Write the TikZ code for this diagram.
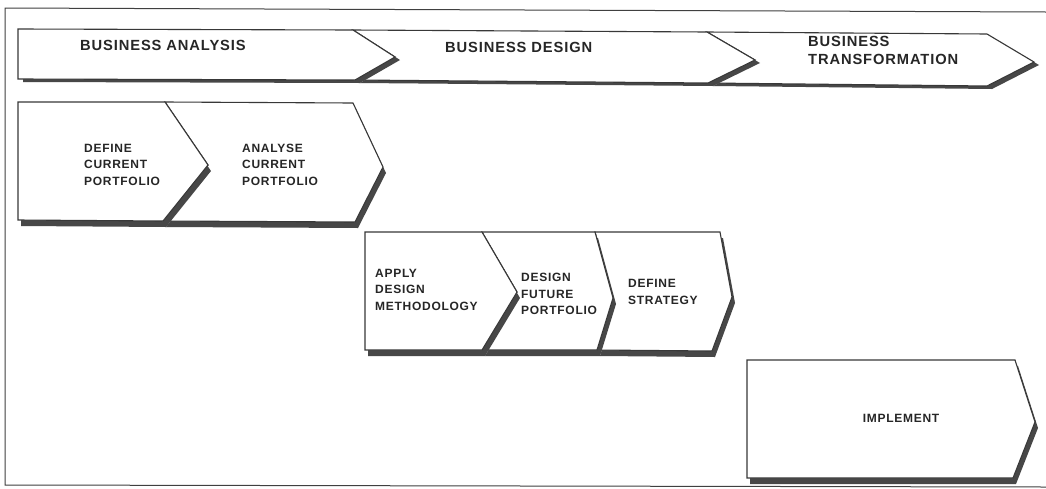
\documentclass[tikz,border=0pt]{standalone}
\usepackage{fontspec}
\setsansfont{Liberation Sans}[LetterSpace=6]
\begin{document}
\begin{tikzpicture}[x=1pt,y=-1pt,
    chevbox/.style={draw=black!78, fill=white, line width=1.1pt, line join=miter},
    chevshadow/.style={fill=black!72},
    chevtext/.style={anchor=west, align=left, inner sep=0pt, text=black!85,
        font=\sffamily\bfseries\fontsize{12}{16.5}\selectfont},
    bandtext/.style={chevtext, font=\sffamily\bfseries\fontsize{14.7}{18}\selectfont}]
    \useasboundingbox (0,0) rectangle (1046,488);
    \fill[white] (0,0) rectangle (1046,488);
    % frame
    \draw[black!75, line width=1pt] (1046,12) -- (5,8) -- (5,485) -- (1046,487);
    % top band, right to left
    \fill[chevshadow, shift={(5,3)}] (707,32) -- (987,34) -- (1034,62) -- (987,86) -- (708,83) -- (755,60) -- cycle;
    \filldraw[chevbox] (707,32) -- (987,34) -- (1034,62) -- (987,86) -- (708,83) -- (755,60) -- cycle;
    \fill[chevshadow, shift={(5,3)}] (353,30) -- (707,32) -- (755,60) -- (708,83) -- (355,80) -- (395,57) -- cycle;
    \filldraw[chevbox] (353,30) -- (707,32) -- (755,60) -- (708,83) -- (355,80) -- (395,57) -- cycle;
    \fill[chevshadow, shift={(5,3)}] (18,29) -- (353,30) -- (395,57) -- (355,80) -- (18,79) -- cycle;
    \filldraw[chevbox] (18,29) -- (353,30) -- (395,57) -- (355,80) -- (18,79) -- cycle;
    \node (analysis) at (80,45) [bandtext] {BUSINESS ANALYSIS};
    \node (design) at (445,47) [bandtext] {BUSINESS DESIGN};
    \node (transform) at (808,50) [bandtext] {BUSINESS\\TRANSFORMATION};
    % second row
    \fill[chevshadow, shift={(3,6)}] (165,102) -- (353,103) -- (383,167) -- (355,222) -- (163,221) -- (208,165) -- cycle;
    \filldraw[chevbox] (165,102) -- (353,103) -- (383,167) -- (355,222) -- (163,221) -- (208,165) -- cycle;
    \fill[chevshadow, shift={(3,6)}] (18,102) -- (165,102) -- (208,165) -- (163,221) -- (18,220) -- cycle;
    \filldraw[chevbox] (18,102) -- (165,102) -- (208,165) -- (163,221) -- (18,220) -- cycle;
    \node (definecur) at (84,164.5) [chevtext] {DEFINE\\CURRENT\\PORTFOLIO};
    \node (analysecur) at (242,164.5) [chevtext] {ANALYSE\\CURRENT\\PORTFOLIO};
    % third row
    \fill[chevshadow, shift={(3,6)}] (595,232) -- (720,232) -- (732,297) -- (712,351) -- (597,350) -- (613,298) -- cycle;
    \filldraw[chevbox] (595,232) -- (720,232) -- (732,297) -- (712,351) -- (597,350) -- (613,298) -- cycle;
    \fill[chevshadow, shift={(3,6)}] (482,232) -- (595,232) -- (613,298) -- (597,350) -- (482,350) -- (517,292) -- cycle;
    \filldraw[chevbox] (482,232) -- (595,232) -- (613,298) -- (597,350) -- (482,350) -- (517,292) -- cycle;
    \fill[chevshadow, shift={(3,6)}] (365,232) -- (482,232) -- (517,292) -- (482,350) -- (365,350) -- cycle;
    \filldraw[chevbox] (365,232) -- (482,232) -- (517,292) -- (482,350) -- (365,350) -- cycle;
    \node (applydes) at (375,289.5) [chevtext] {APPLY\\DESIGN\\METHODOLOGY};
    \node (designfut) at (521,294) [chevtext] {DESIGN\\FUTURE\\PORTFOLIO};
    \node (definestr) at (628,292) [chevtext] {DEFINE\\STRATEGY};
    % last row
    \fill[chevshadow, shift={(3,6)}] (747,360) -- (1015,360) -- (1035,422) -- (1013,478) -- (747,478) -- cycle;
    \filldraw[chevbox] (747,360) -- (1015,360) -- (1035,422) -- (1013,478) -- (747,478) -- cycle;
    \node (implement) at (901,418) [chevtext, anchor=center] {IMPLEMENT};
\end{tikzpicture}
\end{document}
